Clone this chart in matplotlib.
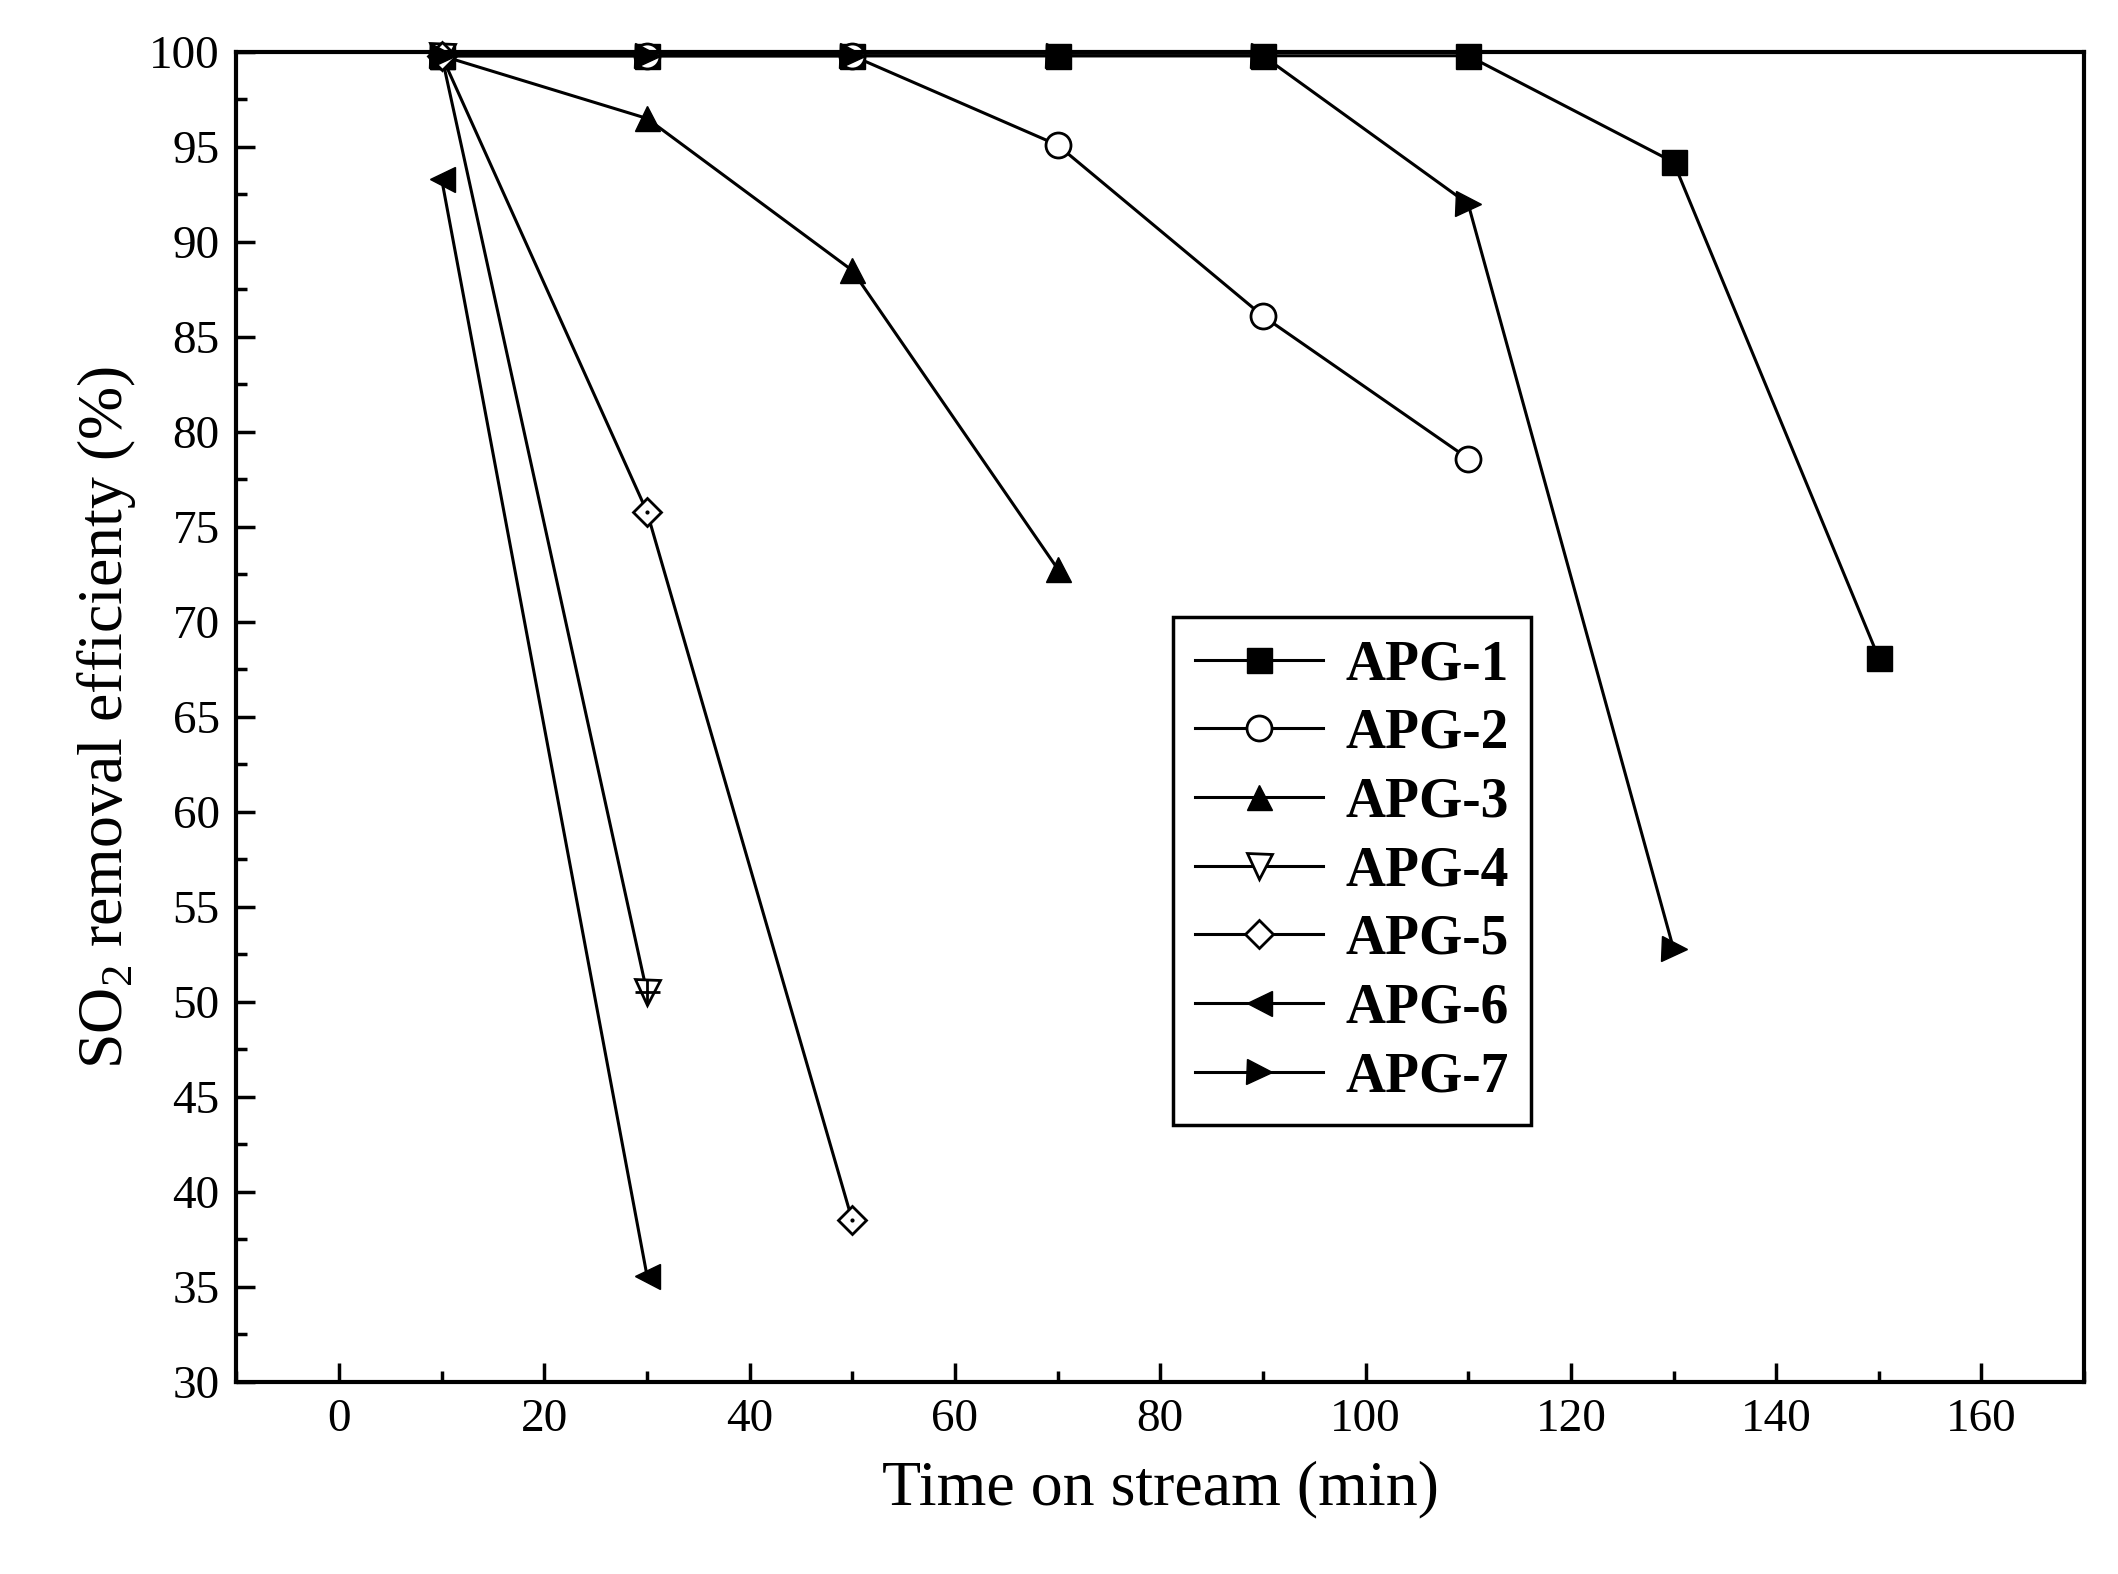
import matplotlib
matplotlib.use('Agg')
import matplotlib.pyplot as plt
from matplotlib.ticker import MultipleLocator

plt.rcParams['font.family'] = 'Liberation Serif'
plt.rcParams['mathtext.fontset'] = 'custom'
plt.rcParams['mathtext.rm'] = 'Liberation Serif'

t1 = [10, 30, 50, 70, 90, 110, 130, 150]
apg1 = [99.8, 99.8, 99.8, 99.8, 99.8, 99.8, 94.2, 68.1]
t2 = [10, 30, 50, 70, 90, 110]
apg2 = [99.8, 99.8, 99.8, 95.1, 86.1, 78.6]
t3 = [10, 30, 50, 70]
apg3 = [99.8, 96.5, 88.5, 72.8]
t4 = [10, 30]
apg4 = [99.8, 50.5]
t5 = [10, 30, 50]
apg5 = [99.8, 75.8, 38.5]
t6 = [10, 30]
apg6 = [93.3, 35.6]
t7 = [10, 30, 50, 70, 90, 110, 130]
apg7 = [99.8, 99.8, 99.8, 99.8, 99.8, 92.0, 52.8]

fig = plt.figure(figsize=(21.18, 15.74), dpi=100)
ax = fig.add_axes([0.1116, 0.122, 0.8724, 0.845])

ms = 18
kw = dict(color='black', linewidth=2.2, markersize=ms, clip_on=False)
ax.plot(t1, apg1, marker='s', markerfacecolor='black', label='APG-1', **kw)
ax.plot(t2, apg2, marker='o', markerfacecolor='white', markeredgewidth=2, label='APG-2', **kw)
ax.plot(t3, apg3, marker='^', markerfacecolor='black', label='APG-3', **kw)
ax.plot(t4, apg4, marker='v', markerfacecolor='white', markeredgewidth=2, label='APG-4', **kw)
ax.plot(t4, apg4, marker='+', linestyle='none', color='black', markersize=ms,
        markeredgewidth=2, clip_on=False)
ax.plot(t5, apg5, marker='D', markerfacecolor='white', markersize=14, markeredgewidth=2,
        label='APG-5', color='black', linewidth=2.2, clip_on=False)
ax.plot(t5, apg5, marker='.', linestyle='none', color='black', markersize=4, clip_on=False)
ax.plot(t6, apg6, marker='<', markerfacecolor='black', label='APG-6', **kw)
ax.plot(t7, apg7, marker='>', markerfacecolor='black', label='APG-7', **kw)

ax.set_xlim(-10, 170)
ax.set_ylim(30, 100)
ax.xaxis.set_major_locator(MultipleLocator(20))
ax.xaxis.set_minor_locator(MultipleLocator(10))
ax.yaxis.set_major_locator(MultipleLocator(5))
ax.yaxis.set_minor_locator(MultipleLocator(2.5))
ax.tick_params(which='both', direction='in', labelsize=34, width=2.5, pad=12)
ax.tick_params(which='major', length=14)
ax.tick_params(which='minor', length=8)
for s in ax.spines.values():
    s.set_linewidth(3)

ax.set_xlabel('Time on stream (min)', fontsize=46, labelpad=14)
ax.set_ylabel('SO$_2$ removal efficienty (%)', fontsize=46, labelpad=8)

handles, labels = ax.get_legend_handles_labels()
leg = ax.legend(handles, labels, loc='upper left', bbox_to_anchor=(0.492, 0.596),
                prop={'weight': 'bold', 'size': 40}, fancybox=False, edgecolor='black',
                framealpha=1, handlelength=2.3, handletextpad=0.4,
                labelspacing=0.3, borderpad=0.4)
leg.get_frame().set_linewidth(2.5)

fig.savefig('out.png', dpi=100)
